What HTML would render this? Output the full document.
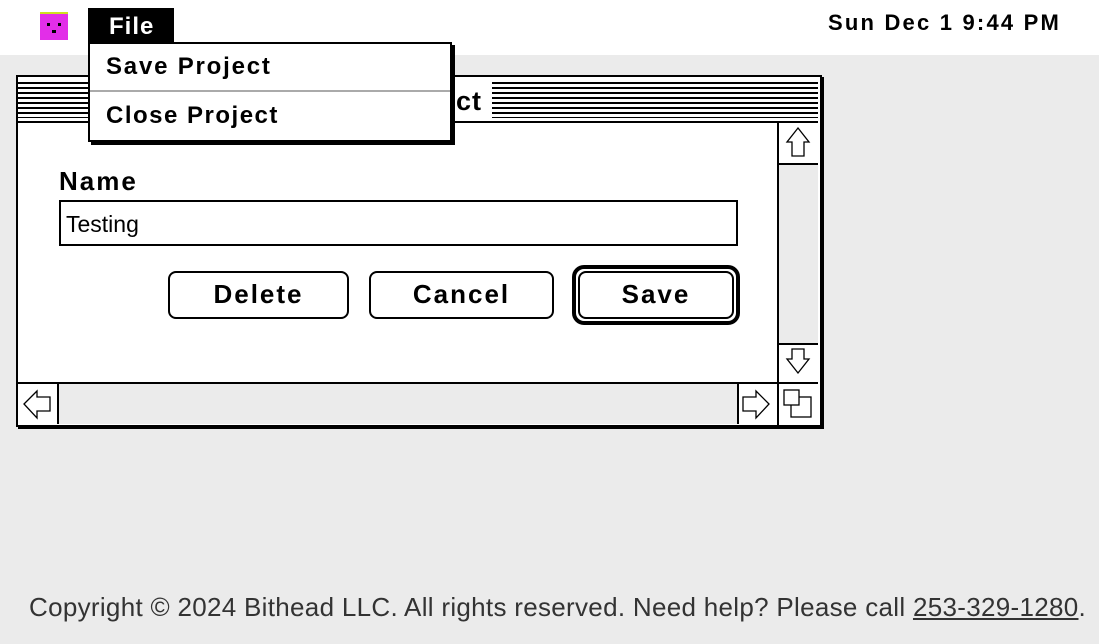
<!DOCTYPE html>
<html><head><style>
*{margin:0;padding:0;box-sizing:border-box}
body{width:1099px;height:644px;background:#ebebeb;position:relative;overflow:hidden;font-family:"Liberation Sans",sans-serif}
.a{position:absolute;white-space:nowrap}
.ch{font-weight:bold;letter-spacing:1px;color:#000}
.btn{position:absolute;border:2px solid #000;border-radius:8px;background:#fff;font-weight:bold;font-size:26px;letter-spacing:2px;text-align:center;line-height:42px}
</style></head><body>
<div class="a" style="left:0;top:0;width:1099px;height:55px;background:#fff"></div>
<div class="a" style="left:40px;top:12px;width:28px;height:28px;background:#e22ee8;border-top:2px solid #cfe020"></div>
<div class="a" style="left:47px;top:23px;width:3px;height:3px;background:#000"></div>
<div class="a" style="left:58px;top:23px;width:3px;height:3px;background:#000"></div>
<div class="a" style="left:52px;top:30px;width:4px;height:3px;background:#000"></div>
<div class="a ch" style="left:88px;top:8px;width:86px;height:35px;background:#000;color:#fff;font-size:24px;line-height:38px;padding-left:21px">File</div>
<div class="a ch" style="left:828px;top:10px;font-size:22px;letter-spacing:2.2px">Sun Dec 1 9:44 PM</div>

<!-- window -->
<div class="a" style="left:16px;top:75px;width:806px;height:352px;background:#fff;border:2px solid #000;box-shadow:2px 2px 0 #000"></div>
<div class="a" style="left:18px;top:80px;width:800px;height:38px;background:repeating-linear-gradient(#fff 0 2px,#000 2px 4px,#fff 4px 5px)"></div>
<div class="a" style="left:18px;top:121px;width:800px;height:2px;background:#000"></div>
<div class="a ch" style="left:320px;top:82px;width:172px;height:36px;background:#fff;font-size:27px;text-align:right;padding-right:13px;line-height:38px">Edit Project</div>
<!-- vscroll -->
<div class="a" style="left:777px;top:121px;width:2px;height:304px;background:#000"></div>
<div class="a" style="left:779px;top:163px;width:39px;height:182px;background:#ebebeb;border-top:2px solid #000;border-bottom:2px solid #000"></div>
<!-- hscroll -->
<div class="a" style="left:18px;top:382px;width:800px;height:2px;background:#000"></div>
<div class="a" style="left:57px;top:384px;width:682px;height:40px;background:#ebebeb;border-left:2px solid #000;border-right:2px solid #000"></div>
<svg class="a" style="left:0;top:0" width="1099" height="644">
<g fill="#fff" stroke="#000" stroke-width="1.3">
<polygon points="798,128 787,142 792,142 792,156 804,156 804,142 809,142"/>
<polygon points="798,373 787,359 792,359 792,349 804,349 804,359 809,359"/>
<polygon points="24,404 37,391 37,397 50,397 50,411 37,411 37,418"/>
<polygon points="769,404 756,391 756,397 743,397 743,411 756,411 756,418"/>
<rect x="791" y="397" width="20" height="20"/>
<rect x="784" y="390" width="15" height="15"/>
</g></svg>
<!-- content -->
<div class="a ch" style="left:59px;top:166px;font-size:26px;letter-spacing:2px">Name</div>
<div class="a" style="left:59px;top:200px;width:679px;height:46px;border:2px solid #000;font-size:23px;line-height:44px;padding-left:5px">Testing</div>
<div class="btn" style="left:168px;top:271px;width:181px;height:48px">Delete</div>
<div class="btn" style="left:369px;top:271px;width:185px;height:48px">Cancel</div>
<div class="a" style="left:572px;top:265px;width:168px;height:60px;border:4px solid #000;border-radius:12px;background:#fff"></div>
<div class="btn" style="left:578px;top:271px;width:156px;height:48px">Save</div>

<!-- menu -->
<div class="a" style="left:88px;top:42px;width:364px;height:100px;background:#fff;border:2px solid #000;box-shadow:3px 3px 0 #000"></div>
<div class="a ch" style="left:106px;top:53px;font-size:24px;letter-spacing:1.8px">Save Project</div>
<div class="a" style="left:90px;top:90px;width:360px;height:2px;background:#aaa"></div>
<div class="a ch" style="left:106px;top:102px;font-size:24px;letter-spacing:1.5px">Close Project</div>

<div class="a" style="left:29px;top:592px;font-size:26px;letter-spacing:0.3px;color:#333">Copyright © 2024 Bithead LLC. All rights reserved. Need help? Please call <u>253-329-1280</u>.</div>
</body></html>
